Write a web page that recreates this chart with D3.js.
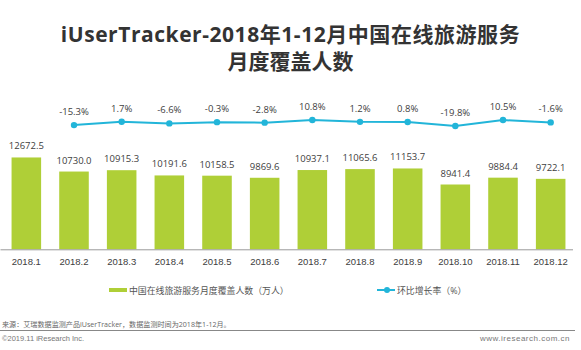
<!DOCTYPE html>
<html><head><meta charset="utf-8">
<script src="https://cdn.jsdelivr.net/npm/d3@7"></script>
<style>
body{margin:0;background:#fff;}
svg{display:block;font-family:"Open Sans","Noto Sans CJK SC",sans-serif;}
</style></head>
<body><svg id="c" width="581" height="350"></svg>
<script>
const months = ["2018.1","2018.2","2018.3","2018.4","2018.5","2018.6","2018.7","2018.8","2018.9","2018.10","2018.11","2018.12"];
const users = [12672.5,10730.0,10915.3,10191.6,10158.5,9869.6,10937.1,11065.6,11153.7,8941.4,9884.4,9722.1];
const growthMonths = ["2018.2","2018.3","2018.4","2018.5","2018.6","2018.7","2018.8","2018.9","2018.10","2018.11","2018.12"];
const growth = [-15.3,1.7,-6.6,-0.3,-2.8,10.8,1.2,0.8,-19.8,10.5,-1.6];
const titleLines = ["iUserTracker-2018年1-12月中国在线旅游服务","月度覆盖人数"];
const legendBar = "中国在线旅游服务月度覆盖人数（万人）";
const legendLine = "环比增长率（%）";
const sourceText = "来源：艾瑞数据监测产品iUserTracker，数据监测时间为2018年1-12月。";
const copyText = "©2019.11 iResearch Inc.";
const siteText = "www.iresearch.com.cn";

const barColor = "#afcf37", lineColor = "#22b5d9", textColor = "#404040";
const svg = d3.select("#c");

// title
svg.append("g").selectAll("text").data(titleLines).join("text")
  .attr("x", 290.5).attr("y", (d,i)=>41.5 + i*27)
  .attr("text-anchor","middle").attr("font-size",21).attr("font-weight","bold")
  .attr("letter-spacing",(d,i)=>i===0?0.55:0)
  .attr("fill","#333").text(d=>d);

const x = d3.scaleBand().domain(months).range([2.5,574.5]).paddingInner(0.38).paddingOuter(0.19);
const y = d3.scaleLinear().domain([0,34400]).range([249.3,0]);
const yl = d3.scaleLinear().domain([-100,100]).range([141.7,102.5]);

// bars
svg.append("g").selectAll("rect").data(users).join("rect")
  .attr("x",(d,i)=>x(months[i])).attr("width",x.bandwidth())
  .attr("y",d=>y(d)).attr("height",d=>y(0)-y(d)).attr("fill",barColor);
svg.append("g").selectAll("text").data(users).join("text")
  .attr("x",(d,i)=>x(months[i])+x.bandwidth()/2).attr("y",d=>y(d)-8)
  .attr("text-anchor","middle").attr("font-size",9.5).attr("fill",textColor)
  .text(d=>d.toFixed(1));

// axis
const ax = svg.append("g").attr("transform",`translate(0,${y(0)})`)
  .call(d3.axisBottom(x).tickSize(0).tickPadding(9));
ax.select(".domain").attr("stroke","#999").attr("d","M0.5,0.5H573");
ax.selectAll("text").attr("font-size",9.5).attr("fill",textColor).attr("font-family",null);

// line
const cx = m => x(m)+x.bandwidth()/2;
const line = d3.line().x((d,i)=>cx(growthMonths[i])).y(d=>yl(d));
svg.append("path").datum(growth).attr("d",line).attr("fill","none")
  .attr("stroke",lineColor).attr("stroke-width",2);
svg.append("g").selectAll("circle").data(growth).join("circle")
  .attr("cx",(d,i)=>cx(growthMonths[i])).attr("cy",d=>yl(d)).attr("r",3.2).attr("fill",lineColor);
svg.append("g").selectAll("text").data(growth).join("text")
  .attr("x",(d,i)=>cx(growthMonths[i])).attr("y",d=>yl(d)-10)
  .attr("text-anchor","middle").attr("font-size",9.5).attr("fill",textColor)
  .text(d=>d.toFixed(1)+"%");

// legend
const lg = svg.append("g").attr("fill","#555").attr("font-size",8.9);
lg.append("rect").attr("x",109).attr("y",288).attr("width",18).attr("height",4).attr("fill",barColor);
lg.append("text").attr("x",129).attr("y",293.5).text(legendBar);
lg.append("line").attr("x1",377).attr("x2",395).attr("y1",290).attr("y2",290).attr("stroke",lineColor).attr("stroke-width",2);
lg.append("circle").attr("cx",387).attr("cy",290).attr("r",3).attr("fill",lineColor);
lg.append("text").attr("x",397).attr("y",293.5).text(legendLine);

// footer
svg.append("text").attr("x",2).attr("y",326.5).attr("font-size",7.1).attr("fill","#666").text(sourceText);
svg.append("line").attr("x1",0).attr("x2",575).attr("y1",330.5).attr("y2",330.5).attr("stroke","#888").attr("stroke-width",1);
svg.append("text").attr("x",2).attr("y",341).attr("font-size",7.5).attr("fill","#777").attr("font-family","Liberation Sans, sans-serif").text(copyText);
svg.append("text").attr("x",570).attr("y",341).attr("text-anchor","end").attr("font-size",8).attr("letter-spacing",0.5).attr("fill","#777").attr("font-family","Liberation Sans, sans-serif").text(siteText);
</script></body></html>
